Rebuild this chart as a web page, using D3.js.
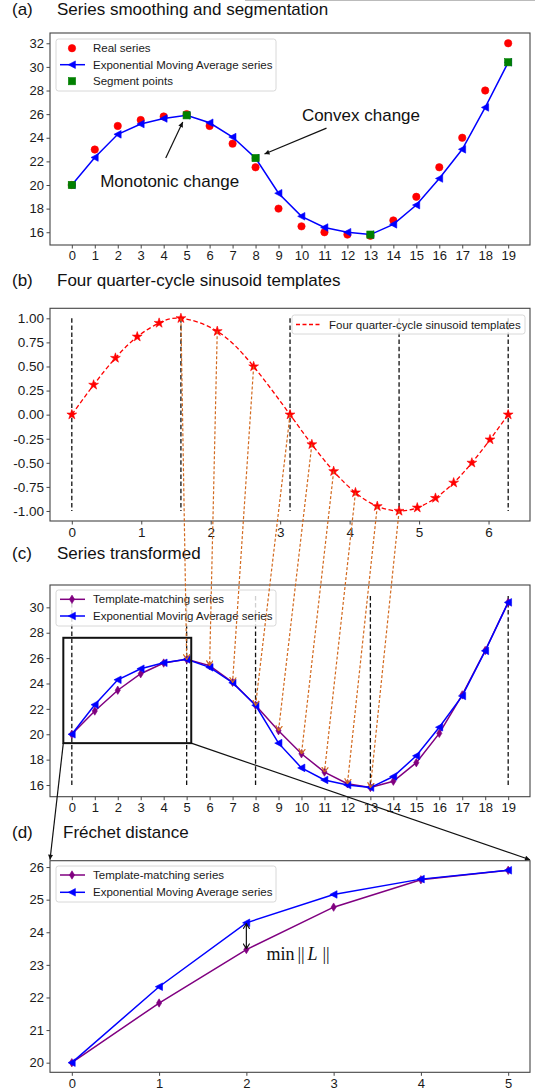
<!DOCTYPE html>
<html><head><meta charset="utf-8">
<script src="https://cdn.jsdelivr.net/npm/d3@7"></script>
<style>
body{margin:0;background:#fff}
svg{display:block}
text{font-family:"Liberation Sans",Arial,sans-serif}
text.math{font-family:"Liberation Serif","Times New Roman",serif}
</style>
</head><body>
<svg id="chart" width="535" height="1091"></svg>
<script>
// ---------------- data ----------------
const steps = [0,1,2,3,4,5,6,7,8,9,10,11,12,13,14,15,16,17,18,19];
const realSeries = [20,23,25,25.5,25.8,26,25,23.5,21.5,18,16.5,16,15.8,15.7,17,19,21.5,24,28,32];
const emaSeries = [20,22.33,24.29,25.16,25.63,25.9,25.27,24.06,22.28,19.3,17.35,16.4,16.0,15.8,16.67,18.3,20.55,23.02,26.57,30.39];
const templateSeries = [20,21.83,23.47,24.77,25.61,25.9,25.41,24.09,22.28,20.28,18.46,17.02,16.1,15.8,16.3,17.76,20.07,23.1,26.6,30.39];
const segmentIdx = [0,5,8,13,19];
const sineTheta = [0,0.314,0.628,0.942,1.257,1.571,2.094,2.618,3.142,3.456,3.770,4.084,4.398,4.712,4.974,5.236,5.498,5.760,6.021,6.283];
const sineValue = [0,0.309,0.588,0.809,0.951,1,0.866,0.5,0,-0.309,-0.588,-0.809,-0.951,-1,-0.966,-0.866,-0.707,-0.5,-0.259,0];
const thetaBounds = [0,1.571,3.142,4.712,6.283];
const arrowIdx = [5,6,7,8,9,10,11,12,13];
const zoomIdx = [0,1,2,3,4,5];

const ticksA_y = [16,18,20,22,24,26,28,30,32];
const ticksB_y = [-1,-0.75,-0.5,-0.25,0,0.25,0.5,0.75,1];
const ticksB_x = [0,1,2,3,4,5,6];
const ticksC_y = [16,18,20,22,24,26,28,30];
const ticksD_y = [20,21,22,23,24,25,26];

const titles = [
  {tag:"(a)", text:"Series smoothing and segmentation"},
  {tag:"(b)", text:"Four quarter-cycle sinusoid templates"},
  {tag:"(c)", text:"Series transformed"},
  {tag:"(d)", text:"Fréchet distance"}
];
const legendA = ["Real series","Exponential Moving Average series","Segment points"];
const legendB = ["Four quarter-cycle sinusoid templates"];
const legendC = ["Template-matching series","Exponential Moving Average series"];

// ---------------- styles ----------------
const RED="#ff0000", BLUE="#0000ff", GREEN="#008000", PURPLE="#800080", ORANGE="#d2691e";
const svg = d3.select("#chart");
const defs = svg.append("defs");

function headOpen(id,color){
  defs.append("marker").attr("id",id).attr("viewBox","0 0 10 14").attr("refX",9.5).attr("refY",7)
    .attr("markerWidth",5.5).attr("markerHeight",7.5).attr("markerUnits","userSpaceOnUse")
    .attr("orient","auto-start-reverse")
    .append("path").attr("d","M0,0.8 L9.5,7 L0,13.2").attr("fill","none")
    .attr("stroke",color).attr("stroke-width",2.2).attr("stroke-dasharray","none");
}
headOpen("hOrange",ORANGE);
headOpen("hBlackOpen","#111");
defs.append("marker").attr("id","hBlack").attr("viewBox","0 0 10 10").attr("refX",10).attr("refY",5)
  .attr("markerWidth",7).attr("markerHeight",5).attr("markerUnits","userSpaceOnUse").attr("orient","auto")
  .append("path").attr("d","M0,0 L10,5 L0,10 Z").attr("fill","#111");

// marker shapes
const shapes = {
  circle: g => g.append("circle").attr("r",3.7),
  tri: g => g.append("path").attr("d","M-3.8,0 L3.4,-3.8 L3.4,3.8 Z"),
  square: g => g.append("rect").attr("x",-3.6).attr("y",-3.6).attr("width",7.2).attr("height",7.2),
  diamond: g => g.append("path").attr("d","M0,-4.2 L2.6,0 L0,4.2 L-2.6,0 Z"),
  star: g => g.append("path").attr("d",d3.symbol(d3.symbolStar,30)())
};
function drawMarkers(g, pts, shape, color){
  pts.forEach(p=>{
    const m = g.append("g").attr("transform",`translate(${p[0]},${p[1]})`).attr("fill",color).attr("stroke",color).attr("stroke-width",0.6);
    shapes[shape](m);
  });
}

// ---------------- panels ----------------
function makePanel(o){
  const x = d3.scaleLinear().domain(o.xDomain).range([o.left,o.right]);
  const y = d3.scaleLinear().domain(o.yDomain).range([o.bottom,o.top]);
  const g = svg.append("g");
  const fs = o.fs || 13;
  const xa = g.append("g").attr("transform",`translate(0,${o.bottom})`)
    .call(d3.axisBottom(x).tickValues(o.xTicks).tickSize(3.5).tickPadding(2.5).tickFormat(o.xFmt||d3.format("d")));
  const ya = g.append("g").attr("transform",`translate(${o.left},0)`)
    .call(d3.axisLeft(y).tickValues(o.yTicks).tickSize(3.5).tickPadding(2.5).tickFormat(o.yFmt||d3.format("d")));
  [xa,ya].forEach(a=>{
    a.select(".domain").remove();
    a.attr("font-size",fs);
    a.selectAll("text").attr("fill","#1a1a1a");
    a.selectAll("line").attr("stroke","#333").attr("stroke-width",0.9);
  });
  g.append("rect").attr("x",o.left).attr("y",o.top).attr("width",o.right-o.left).attr("height",o.bottom-o.top)
    .attr("fill","none").attr("stroke","#444").attr("stroke-width",1.1);
  return {x,y,g,o};
}

function legendBox(g, box, items){
  g.append("rect").attr("x",box.x).attr("y",box.y).attr("width",box.w).attr("height",box.h).attr("rx",2.5)
    .attr("fill","#fff").attr("fill-opacity",0.8).attr("stroke","#d4d4d4").attr("stroke-width",0.9);
  items.forEach((it,i)=>{
    const yy = box.y + box.first + i*box.step;
    if(it.line){
      g.append("line").attr("x1",box.x+4).attr("x2",box.x+29).attr("y1",yy).attr("y2",yy)
        .attr("stroke",it.color).attr("stroke-width",1.5).attr("stroke-dasharray",it.dash||null);
    }
    if(it.shape) drawMarkers(g,[[box.x+16,yy]],it.shape,it.color);
    g.append("text").attr("x",box.x+37).attr("y",yy+4).attr("font-size",11.5).attr("fill","#1a1a1a").text(it.label);
  });
}

function title(i, tx, ty){
  svg.append("text").attr("x",12).attr("y",ty).attr("font-size",17).attr("fill","#111").text(titles[i].tag);
  svg.append("text").attr("x",tx).attr("y",ty).attr("font-size",17).attr("fill","#111").text(titles[i].text);
}

// top hairline
svg.append("line").attr("x1",245).attr("x2",535).attr("y1",0.5).attr("y2",0.5).attr("stroke","#bbb").attr("stroke-width",1);

// ---------- (a) ----------
title(0,57,15);
const A = makePanel({left:50,right:530,top:33,bottom:245,xDomain:[-0.95,19.95],yDomain:[14.92,32.87],xTicks:steps,yTicks:ticksA_y});
drawMarkers(A.g, steps.map((s,i)=>[A.x(s),A.y(realSeries[i])]),"circle",RED);
A.g.append("path").datum(steps).attr("fill","none").attr("stroke",BLUE).attr("stroke-width",1.5)
  .attr("d",d3.line().x(s=>A.x(s)).y((s,i)=>A.y(emaSeries[i])));
drawMarkers(A.g, steps.map((s,i)=>[A.x(s),A.y(emaSeries[i])]),"tri",BLUE);
drawMarkers(A.g, segmentIdx.map(k=>[A.x(steps[k]),A.y(emaSeries[k])]),"square",GREEN);
legendBox(A.g,{x:56,y:39,w:220,h:52,first:9.2,step:16.5},[
  {label:legendA[0],shape:"circle",color:RED},
  {label:legendA[1],shape:"tri",color:BLUE,line:true},
  {label:legendA[2],shape:"square",color:GREEN}
]);
// annotations (data coords)
const annotA = [
  {text:"Monotonic change", tx:4.26, ty:19.8, from:[4.09,22.28], to:[4.83,25.33]},
  {text:"Convex change", tx:12.59, ty:25.42, from:[11.09,24.82], to:[8.39,22.62]}
];
annotA.forEach(a=>{
  A.g.append("text").attr("x",A.x(a.tx)).attr("y",A.y(a.ty)).attr("text-anchor","middle").attr("font-size",17).attr("fill","#111").text(a.text);
  A.g.append("line").attr("x1",A.x(a.from[0])).attr("y1",A.y(a.from[1])).attr("x2",A.x(a.to[0])).attr("y2",A.y(a.to[1]))
    .attr("stroke","#111").attr("stroke-width",1.2).attr("marker-end","url(#hBlack)");
});

// ---------- (b) ----------
title(1,57,285.5);
const B = makePanel({left:50,right:530,top:308.3,bottom:521,xDomain:[-0.314,6.597],yDomain:[-1.104,1.104],xTicks:ticksB_x,yTicks:ticksB_y,
  yFmt:d=>d3.format(".2f")(d).replace("−","-"),fs:13.5});
thetaBounds.forEach(t=>{
  B.g.append("line").attr("x1",B.x(t)).attr("x2",B.x(t)).attr("y1",B.y(1)).attr("y2",B.y(-1))
    .attr("stroke","#111").attr("stroke-width",1.3).attr("stroke-dasharray","4.5,2.6");
});
B.g.append("path").datum(sineTheta).attr("fill","none").attr("stroke",RED).attr("stroke-width",1.3).attr("stroke-dasharray","4.5,2.6")
  .attr("d",d3.line().x(t=>B.x(t)).y((t,i)=>B.y(sineValue[i])).curve(d3.curveNatural));
drawMarkers(B.g, sineTheta.map((t,i)=>[B.x(t),B.y(sineValue[i])]),"star",RED);
legendBox(B.g,{x:292,y:315,w:233,h:19,first:9.5,step:16},[
  {label:legendB[0],color:RED,line:true,dash:"4,2.5"}
]);

// ---------- (c) ----------
title(2,57,559);
const C = makePanel({left:50,right:530,top:585,bottom:796.7,xDomain:[-0.95,19.95],yDomain:[15.08,31.76],xTicks:steps,yTicks:ticksC_y});
segmentIdx.forEach(k=>{
  C.g.append("line").attr("x1",C.x(steps[k])).attr("x2",C.x(steps[k])).attr("y1",C.y(16)).attr("y2",C.y(30.9))
    .attr("stroke","#111").attr("stroke-width",1.3).attr("stroke-dasharray","4.5,2.6");
});
C.g.append("path").datum(steps).attr("fill","none").attr("stroke",PURPLE).attr("stroke-width",1.5)
  .attr("d",d3.line().x(s=>C.x(s)).y((s,i)=>C.y(templateSeries[i])));
drawMarkers(C.g, steps.map((s,i)=>[C.x(s),C.y(templateSeries[i])]),"diamond",PURPLE);
C.g.append("path").datum(steps).attr("fill","none").attr("stroke",BLUE).attr("stroke-width",1.5)
  .attr("d",d3.line().x(s=>C.x(s)).y((s,i)=>C.y(emaSeries[i])));
drawMarkers(C.g, steps.map((s,i)=>[C.x(s),C.y(emaSeries[i])]),"tri",BLUE);
legendBox(C.g,{x:56,y:590,w:220,h:36,first:9.3,step:16.7},[
  {label:legendC[0],shape:"diamond",color:PURPLE,line:true},
  {label:legendC[1],shape:"tri",color:BLUE,line:true}
]);
const zoomBox = {x0:-0.37,x1:5.2,y0:19.3,y1:27.6};
C.g.append("rect").attr("x",C.x(zoomBox.x0)).attr("y",C.y(zoomBox.y1))
  .attr("width",C.x(zoomBox.x1)-C.x(zoomBox.x0)).attr("height",C.y(zoomBox.y0)-C.y(zoomBox.y1))
  .attr("fill","none").attr("stroke","#111").attr("stroke-width",2);

// ---------- (d) ----------
title(3,63,837.5);
const D = makePanel({left:50,right:530,top:860.7,bottom:1072.3,xDomain:[-0.25,5.25],yDomain:[19.705,26.195],xTicks:zoomIdx,yTicks:ticksD_y});
D.g.append("path").datum(zoomIdx).attr("fill","none").attr("stroke",PURPLE).attr("stroke-width",1.5)
  .attr("d",d3.line().x(s=>D.x(s)).y(s=>D.y(templateSeries[s])));
drawMarkers(D.g, zoomIdx.map(s=>[D.x(s),D.y(templateSeries[s])]),"diamond",PURPLE);
D.g.append("path").datum(zoomIdx).attr("fill","none").attr("stroke",BLUE).attr("stroke-width",1.5)
  .attr("d",d3.line().x(s=>D.x(s)).y(s=>D.y(emaSeries[s])));
drawMarkers(D.g, zoomIdx.map(s=>[D.x(s),D.y(emaSeries[s])]),"tri",BLUE);
legendBox(D.g,{x:56,y:866,w:220,h:36,first:9,step:17.3},[
  {label:legendC[0],shape:"diamond",color:PURPLE,line:true},
  {label:legendC[1],shape:"tri",color:BLUE,line:true}
]);
// min ||L|| double arrow
const gapIdx = 2;
D.g.append("line").attr("x1",D.x(gapIdx)).attr("x2",D.x(gapIdx)).attr("y1",D.y(emaSeries[gapIdx])+1).attr("y2",D.y(templateSeries[gapIdx])-1)
  .attr("stroke","#111").attr("stroke-width",1.2).attr("marker-start","url(#hBlackOpen)").attr("marker-end","url(#hBlackOpen)");
const mx = D.x(2.23), my = D.y(23.14);
const mt = D.g.append("g").attr("fill","#111");
mt.append("text").attr("class","math").attr("x",mx).attr("y",my).attr("font-size",18).text("min");
mt.append("text").attr("class","math").attr("x",mx+31).attr("y",my).attr("font-size",18).text("||");
mt.append("text").attr("class","math").attr("x",mx+41).attr("y",my).attr("font-size",18).attr("font-style","italic").text("L");
mt.append("text").attr("class","math").attr("x",mx+56).attr("y",my).attr("font-size",18).text("||");

// ---------- orange mapping arrows (b) -> (c) ----------
arrowIdx.forEach(k=>{
  svg.append("line").attr("x1",B.x(sineTheta[k])).attr("y1",B.y(sineValue[k]))
    .attr("x2",C.x(steps[k])).attr("y2",C.y(templateSeries[k]))
    .attr("stroke",ORANGE).attr("stroke-width",1.2).attr("stroke-dasharray","3,2")
    .attr("marker-end","url(#hOrange)");
});

// ---------- connectors (c) -> (d) ----------
const conn = [
  {from:[C.x(zoomBox.x0),C.y(zoomBox.y0)], to:[D.o.left,D.o.top-1]},
  {from:[C.x(zoomBox.x1),C.y(zoomBox.y0)], to:[D.o.right,D.o.top-1]}
];
conn.forEach(c=>{
  svg.append("line").attr("x1",c.from[0]).attr("y1",c.from[1]).attr("x2",c.to[0]).attr("y2",c.to[1])
    .attr("stroke","#111").attr("stroke-width",1.2).attr("marker-end","url(#hBlack)");
});
</script>
</body></html>
